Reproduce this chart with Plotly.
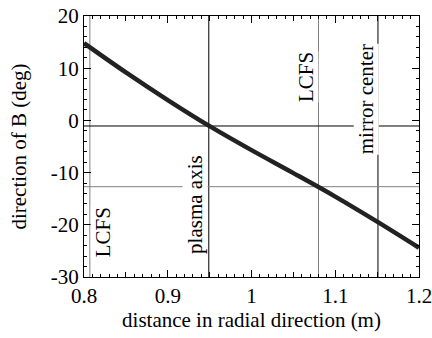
import plotly.graph_objects as go

# data
radius_m = [0.80, 0.85, 0.90, 0.95, 1.00, 1.05, 1.10, 1.15, 1.20]
direction_deg = [14.8, 9.2, 3.9, -1.1, -5.7, -10.1, -14.6, -19.4, -24.4]

x_tickvals = [0.8, 0.9, 1.0, 1.1, 1.2]
x_ticktext = ["0.8", "0.9", "1", "1.1", "1.2"]
x_midticks = [0.85, 0.95, 1.05, 1.15]
y_tickvals = [-30, -20, -10, 0, 10, 20]
y_ticktext = ["-30", "-20", "-10", "0", "10", "20"]

vlines_x = [0.807, 0.949, 1.080, 1.151]
vlines_color = ["#808080", "#000000", "#808080", "#000000"]
hlines_y = [-1.07, -12.7]
hlines_color = ["#000000", "#808080"]

labels = ["LCFS", "plasma axis", "LCFS", "mirror center"]
labels_x = [0.823, 0.9325, 1.065, 1.137]
labels_y = [-21.4, -16.0, 8.3, 4.1]

FONT = "Liberation Serif"
FS = 21

fig = go.Figure()
fig.add_trace(go.Scatter(x=radius_m, y=direction_deg, mode="lines",
                         line=dict(color="#222222", width=4.5, shape="spline"),
                         showlegend=False, hoverinfo="skip"))
# invisible trace on xaxis2 for mid ticks
fig.add_trace(go.Scatter(x=[0.8, 1.2], y=[-30, 20], xaxis="x2", mode="markers",
                         marker=dict(opacity=0), showlegend=False, hoverinfo="skip"))

shapes = []
for xv, c in zip(vlines_x, vlines_color):
    shapes.append(dict(type="line", xref="x", yref="paper", x0=xv, x1=xv, y0=0, y1=1,
                       line=dict(color=c, width=1), layer="below"))
for yv, c in zip(hlines_y, hlines_color):
    shapes.append(dict(type="line", xref="paper", yref="y", x0=0, x1=1, y0=yv, y1=yv,
                       line=dict(color=c, width=1), layer="below"))

annotations = []
for t, xv, yv in zip(labels, labels_x, labels_y):
    annotations.append(dict(text=t, x=xv, y=yv, xref="x", yref="y", showarrow=False,
                            textangle=-90, bgcolor="white", borderpad=0,
                            font=dict(family=FONT, size=FS, color="black")))

fig.update_layout(
    width=432, height=338,
    margin=dict(l=84, r=13, t=16, b=61, autoexpand=False),
    plot_bgcolor="white", paper_bgcolor="white",
    font=dict(family=FONT, size=FS, color="black"),
    shapes=shapes, annotations=annotations,
    xaxis=dict(range=[0.8, 1.2], tickvals=x_tickvals, ticktext=x_ticktext,
               ticks="inside", ticklen=7, tickwidth=1, tickcolor="black",
               showline=True, linecolor="black", linewidth=1, mirror="ticks",
               showgrid=False, zeroline=False, automargin=False,
               ticklabeloverflow="allow",
               minor=dict(dtick=0.01, ticks="inside", ticklen=3, tickcolor="black", showgrid=False),
               title=dict(text="distance in radial direction (m)", standoff=2,
                          font=dict(family=FONT, size=FS)),
               tickfont=dict(family=FONT, size=FS)),
    xaxis2=dict(overlaying="x", matches="x", side="bottom", tickvals=x_midticks,
                ticks="inside", ticklen=5, tickcolor="black", showticklabels=False,
                showline=False, mirror="ticks", showgrid=False, zeroline=False, automargin=False),
    yaxis=dict(range=[-30, 20], tickvals=y_tickvals, ticktext=y_ticktext,
               ticks="inside", ticklen=7, tickwidth=1,
               tickcolor="black", showline=True, linecolor="black", linewidth=1,
               mirror="ticks", showgrid=False, zeroline=False, automargin=False,
               ticklabeloverflow="allow",
               minor=dict(dtick=2, ticks="inside", ticklen=3, tickcolor="black", showgrid=False),
               title=dict(text="direction of B (deg)", standoff=18,
                          font=dict(family=FONT, size=FS)),
               tickfont=dict(family=FONT, size=FS)),
)

fig.write_html("out.html")
